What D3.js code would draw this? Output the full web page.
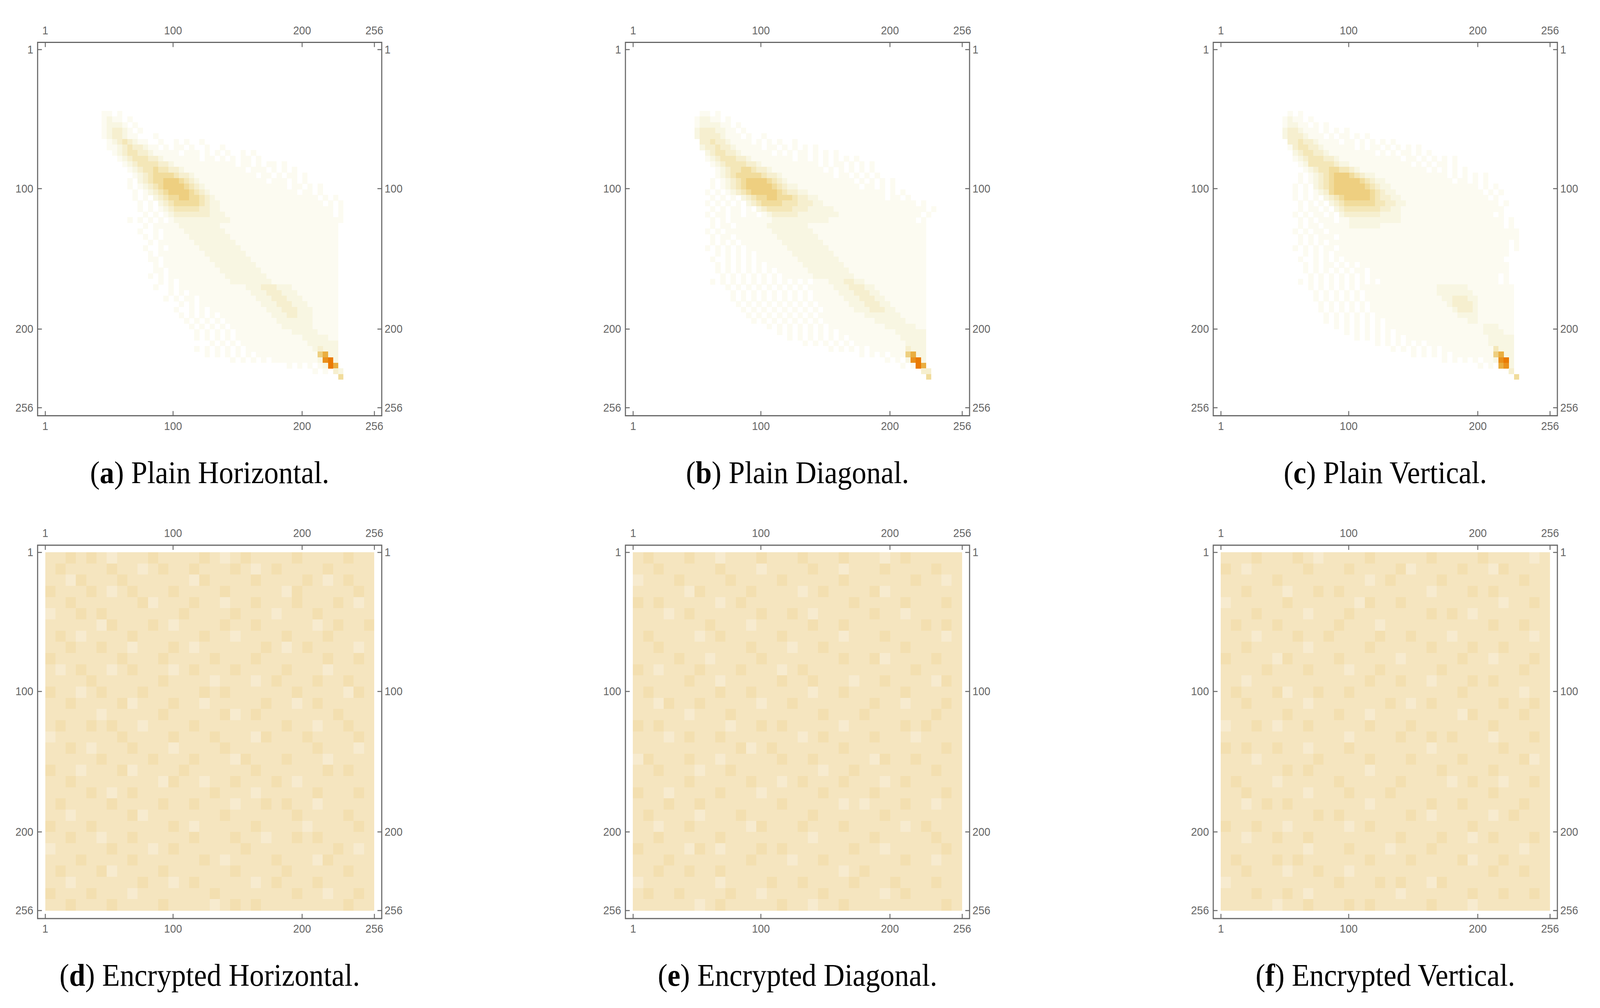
<!DOCTYPE html>
<html>
<head>
<meta charset="utf-8">
<script src="https://cdn.jsdelivr.net/npm/d3@7"></script>
<style>
  html, body { margin: 0; padding: 0; background: #fff; width: 100%; height: 100%; overflow: hidden; }
  svg { display: block; width: 100vw; height: 100vh; }
  .axis text { font-family: "Liberation Sans", Arial, sans-serif; font-size: 30px; fill: #666; }
  .axis line { stroke: #666; stroke-width: 2.5; }
  .caption { font-family: "Liberation Serif", serif; font-size: 81px; fill: #000; text-anchor: middle; }
</style>
</head>
<body>
<svg id="chart"></svg>
<script>
// tick labels shared by all panels
const tickValues = [1, 100, 200, 256];

// captions
const captionLetters = ["a", "b", "c", "d", "e", "f"];
const captionTexts = ["Plain Horizontal.", "Plain Diagonal.", "Plain Vertical.",
                      "Encrypted Horizontal.", "Encrypted Diagonal.", "Encrypted Vertical."];

// density levels 0-9
const densityLevels = [0, 1, 2, 3, 4, 5, 6, 7, 8, 9];
const plainColors = ["#ffffff", "#fcfbf1", "#f8f6e2", "#f6efcf", "#f4e7b8", "#f1dc9c", "#eecf80", "#eaae40", "#ea901c", "#ea7a04"];
const encryptedColors = ["#ffffff", "#fdf9ef", "#fbf3e0", "#f7ebcf", "#f5e5bf", "#f3dfb0", "#eeca7c", "#eaae40", "#ea901c", "#ea7a04"];

// plain panels: 64 x 64 blocks of 4 grey levels, first listed row is row 11, '.' means empty
const plainRowStart = 11;
const plainHorizontal = [
"...........11.1",
"...........1211.1",
"...........12221.1",
"...........123321.1",
"...........1233211...1",
"............12343211..1..1.1..1",
"............1123433211.1.11.1..1..1",
".............1234433211111.111.1.1.1..1.1",
"..............1234443321111111.11.1.1.11.1",
"...............1234444332111111111111.11.1.11.1",
"................12344544332111111111111.111.1.1.1",
".................123455554332111111111111.11.1.11.1",
"................1.2345566654321111111111111.111.1.1",
"................1.12345666654321111111111111111.11.1.1",
".................1.123456666543211111111111111111.11.1",
".................1.1.23455665543211111111111111111111.1.1",
"..................1.1.23455555432211111111111111111111.1.1",
"..................1.1.1234444433221111111111111111111111.1",
"...................1.1.123333333222111111111111111111111.1",
"................1.1.1.1.1222222222221111111111111111111111",
"...................1.1" + "1111" + "22222222" + "11111111111111111111111",
"..................1..1." + "1111" + "22222222" + "1111111111111111111111",
"...................1.1." + "11111" + "22222222" + "111111111111111111111",
"....................1." + "1111111" + "22222222" + "11111111111111111111",
"...................1..1." + "111111" + "22222222" + "1111111111111111111",
"....................1." + "111111111" + "22222222" + "111111111111111111",
"....................11." + "111111111" + "22222222" + "11111111111111111",
".....................1." + "1111111111" + "22222222" + "1111111111111111",
".....................11." + "1111111111" + "22222222" + "111111111111111",
"....................1.1." + "11111111111" + "22222222" + "11111111111111",
"......................1.1." + "1111111111" + "22222222" + "1111111111111",
".....................1..1.1111111111111222333222111111111",
"........................1.1.11111111111122233322211111111",
".......................1.1.11.1111111111122233322" + "21111111",
"..........................1.1.11111111111122233322" + "2111111",
".........................1..1.1.11111111111222333222" + "11111",
"..........................1.1.1.1.111111111122233222" + "11111",
"...........................1.1.1.1.1111111111222222211111",
"............................1.1.1.1.11111111112222221" + "1111",
".............................1.1.1.1.11111111111222221111",
".............................1.1.1.1.1111111111111222221" + "1",
"................................1.1.1.1111111111111222222",
".............................1.1.1.1.1.111111111111122222",
"...............................1.1.1.1.1.1111111111112222",
"....................................1.1.1.1.1111111112222",
"...............................................1.1.1.1222",
"....................................................1.1.12"
];
const plainDiagonal = [
".............11.1",
"............12211.1",
"............1222211.1",
"............23332211.1",
"............233332111.1..1",
".............3343321111.1.1.1..1",
".............233433211111.11.1.1.1.1",
"..............2344332111111.1.1.11.1.1.1",
"..............12344433211111111.11.1.1.1.1.1",
"...............123444433211111111111.1.11.1.1.1",
"................123445543321111111111.1.1.1.1.1",
"................12345555543321111111111.11.1.1.1",
"...............1.12345666654321111111111111.1.1.1.1",
"...............1.123456666654322111111111111.11.1.1",
"..............1.1.1234566666543322111111111111111.1.1",
"...............1.1.1.2345566555433221111111111111.11.1",
"..............1.1.1.1.234555544433322111111111111111111.1",
"...............1.1.11.1.234444433322222111111111111111111.1",
"..............1.11.11.11.1233333222222221111111111111111.1",
"...............1.1.111111112222222222211111111111111111.1",
"...............1.11.1" + "11111" + "22222222" + "11111111111111111111111",
"..............1.1.1" + "11111111" + "22222222" + "1111111111111111111111",
"...............1.11." + "11111111" + "22222222" + "111111111111111111111",
"...............1.1.1." + "11111111" + "22222222" + "11111111111111111111",
"..............1.1.1.1." + "11111111" + "22222222" + "1111111111111111111",
"................1.1.1.1." + "1111111" + "22222222" + "111111111111111111",
"...............1..1.1.1." + "11111111" + "22222222" + "11111111111111111",
"................1.1.1.1.1." + "1111111" + "22222222" + "1111111111111111",
"................1.1.1.1.1.1." + "111111" + "22222222" + "111111111111111",
".................1.1.1.1.1.1." + "111111" + "22222222" + "11111111111111",
"...............1.1.1.1.1.1.1.1.1.1.1112223322111111111111",
"..................1.1.1.1.1.1.1.1.11111222333221111111111",
"...................1.1.1.1.1.1.1.1.11111222333221111" + "11111",
"...................1.1.1.1.1.1.1.1.111111222333221" + "1111111",
"....................1.1.1.1.1.1.1.1.11111122233322" + "1111111",
".....................1.1.1.1.1.1.1.1.1111112223332" + "2111111",
"......................1.1.1.1.1.1.1.111111111222222211111",
".......................1.1.1.1.1.1.1.11111111112222221111",
"..........................1.1.1.1.1.1.11111111111222222" + "11",
"............................1.1.1.1.1.1.11111111111222222",
"..............................1.1.1.1.1.1.111111111122222",
".................................1.1.1.1.1.11111111112222",
"......................................1.1.1.1.11111112222",
"............................................1.1.1.1112222",
".................................................1.1.2222",
"....................................................1.1.2"
];
const plainVertical = [
".............1.1",
"............1211.1",
"............12211.1.1",
"............2332111.1.1.1",
"............23332111.1.11.1.1",
".............3343321111.11.1.1.1.1",
".............1344332111111.1.11.1.1.1.1",
"..............2344332111111111.1.1.11.1.1",
"..............123444332111111111111.11.1.1.1.1",
"...............1244444322111111111111.1.1.11.1",
"................123445544321111111111111.1.1.1.1",
"...............1.123456665432211111111111111.1.1.1.1",
"...............1.1234566666543221111111111111.11.1.1",
"..............1.1.23456666665432211111111111111111.1.1",
"..............1.1.123566666665432211111111111111111.1.1",
"..............1.1.1.23456666654332211111111111111111.1",
"...............1.1.1.234555555443322111111111111111111.1",
"...............1.11.1.234444444332211111111111111111111",
"..............1.1.11.1.233333332222111111111111111111.1",
"...............1.1.111.11222222222211111111111111111111.1",
"...............1.11.11111222222111111111111111111111111.1",
"..............1.1.11.1111111111111111111111111111111111111",
"...............1.1.111.11111111111111111111111111111111111",
"...............1.1.1.11111111111111111111111111111111111.1",
"..............1.1.1.11.111111111111111111111111111111111.1",
"................1.1.1.1111111111111111111111111111111111",
"...............1..1.1.1.1111111111111111111111111111111",
"................1.1.11.1.1.11111111111111111111111111111",
"................1.1.1.1.1.11.111111111111111111111111111",
".................1.1.1.1.1.1.1111111111111111111111111.1",
"...............1.1.1.1.1.1.1.1.11111111111111111111111.1",
".................1.1.1.1.1.111111111111111222222111111111",
"..................1.1.1.1.1.11111111111111222222211111111",
"..................1.1.1.1.1.1111111111111112233322" + "1111111",
"...................1.1.1.1.1.11111111111111123333211" + "11111",
"...................1.1.1.1.1.111111111111111123332" + "1111111",
"....................1.1.1.1.1.11111111111111112222" + "1111111",
"....................1.1.1.1.1.1.111111111111111122" + "1111111",
"......................1.1.1.1.1.11111111111111111112221" + "11",
"........................1.1.1.1.1.1111111111111111122221" + "1",
"..........................1.1.1.1.1.111111111111111122222",
"..............................1.1.1.1.1.11111111111122222",
".................................1.1.1.1.1.11111111112222",
".....................................1.1.1.1.111111112222",
"...........................................1.1.1.1.112222",
"..................................................1.1.222"
];

// bright diagonal peaks: [row, column, level]
const peaksHorizontal = [[53,53,3],[54,53,6],[54,54,7],[55,54,8],[55,55,9],[56,55,9],[56,56,7],[57,56,3],[58,57,5]];
const peaksDiagonal = [[53,53,3],[54,53,6],[54,54,7],[55,54,8],[55,55,9],[56,55,9],[56,56,7],[57,56,3],[57,57,3],[58,57,5]];
const peaksVertical = [[53,53,4],[54,53,6],[54,54,7],[55,54,8],[55,55,9],[56,54,7],[56,55,8],[57,56,3],[58,57,5]];

// encrypted panels: 32 x 32 block averages, nearly flat in the picture
const encryptedHorizontal = [
"44545434445444454345444454444544","45444454434544544454345444454444",
"44354445444444354444544445434544","54445434544454444544444354444454",
"44544444453444544344544454445434","34454544444445444454443444544444",
"44444354445434444544544444345445","45434444544444454434444544454444",
"44544544344454344444454345444434","54444445444544445444544444454454",
"43454434544434544454444544434444","44445444444544443444345444544544",
"54434544454444454544444454444354","44544445344454434444454434544444",
"44444344444544444534544444445444","45445454434444544444444544344544",
"34444445444454445444354445444454","44543444544434444544444444544434",
"44444544445444544435444544434444","54434445344445444444544444454544",
"44544444444354434454445434444444","44445434544444445444344444544454",
"45444454444544544434454544344444","44344444534444444544444454444544",
"54445444444454344444544443444454","44544344544444544454434454544444",
"34444454443454444445444444445434","44454444544444454344445444354444",
"45444534444544444454444544444544","44344444454434544444345444544444",
"54445444344444445444444454434454","44544454444544443454544444444544"
];
const encryptedDiagonal = [
"45444544344454445444544434544444","44544444544434444544344454444544",
"34445444454444544444544444454434","44444354444544443454444534444444",
"54544444345444444444454444544454","44434544444454454344444544344444",
"44444445444344444544544444445454","45444434544444544444344454444434",
"44544444444544434454444444544444","44445443444454444444544534444544",
"54344454445444345444444444454444","44444544344444544544434454444354",
"45444444544544444344544444544444","44354454444434454444444544344454",
"44444344454444444454445444444544","54544444434454544444344444545444",
"44434544544444443454444544434444","44444444445345444444544444444454",
"35444544344444544544444354454444","44544434454444444434454444444544",
"44444544444544345444544434544444","54434444544434444454444544444454",
"44454454444444544444343444544344","45444434445444444544444454444444",
"44344544444354445444544444345444","44544444544444444344444544444544",
"54444354344454544444454434444454","44454444444544434454444444544344",
"44544544544444444444345444444444","34444444344445445444454445444544",
"45445444454434444454444434544444","44444434544444544344544444444454"
];
const encryptedVertical = [
"44454445434444544444544445444434","54344444544454444534444544354444",
"44444544444444345444454444444544","44544434454544444444344454544444",
"34444454444443544544444444434454","44454444344454444444545434444444",
"45444544444544434444444444544544","44434445445444454454443444444434",
"44544444344444544444544454454444","54444354444544444344444544344454",
"44445444544434454444454444444544","44344444444444544544344454544444",
"45444534454454444444444544444344","44544444344444445434544444454454",
"44444454444544344444444354444544","34454344544444544454444444544444",
"44444444444434444544545444344454","54544544344454444444344444454444",
"44434444454444544454444544444534","44444454544444344444454444544444",
"45444344444544444544443454434454","44544444344454445444444444544444",
"44345454444444344444544544444544","44444444454544444454344444345444",
"54454434444434544444444454444444","44344544544444444544454434544454",
"44444444344454443444544444444344","45444545444444544454444534454444",
"44544434454434444444444444544544","34444444444544454544354444444444",
"44454454344444444344444454454454","44444344544454544444544434444444"
];

const plainPanels = [
  { rows: plainHorizontal, peaks: peaksHorizontal },
  { rows: plainDiagonal, peaks: peaksDiagonal },
  { rows: plainVertical, peaks: peaksVertical }
];
const encryptedPanels = [encryptedHorizontal, encryptedDiagonal, encryptedVertical];

const columnLefts = [105, 1746.5, 3388];
const rowTops = [108.5, 1396];
const frameWidth = 961, frameHeight = 956;
const captionBaselineGap = 1128.5;

// viewBox keeps the whole 4468 x 2581 drawing inside the window
const svg = d3.select("#chart")
  .attr("viewBox", "0 0 4468 2581")
  .attr("preserveAspectRatio", "none");

const xScale = d3.scaleLinear().domain([1, 256]).range([21, 940]);
const yScale = d3.scaleLinear().domain([1, 256]).range([18, 935]);

function drawCells(g, cells, size, colors) {
  const xBand = d3.scaleBand().domain(d3.range(size)).range(xScale.range());
  const yBand = d3.scaleBand().domain(d3.range(size)).range(yScale.range());
  const color = d3.scaleOrdinal().domain(densityLevels).range(colors);
  g.append("g")
    .attr("shape-rendering", "crispEdges")
    .selectAll("rect")
    .data(cells.filter(d => d.level > 0))
    .join("rect")
    .attr("x", d => xBand(d.col))
    .attr("y", d => yBand(d.row))
    .attr("width", xBand.bandwidth() + 0.5)
    .attr("height", yBand.bandwidth() + 0.5)
    .attr("fill", d => color(d.level));
}

function drawFrame(g) {
  g.append("rect")
    .attr("width", frameWidth)
    .attr("height", frameHeight)
    .attr("fill", "none")
    .attr("stroke", "#666")
    .attr("stroke-width", 3);

  const axes = [
    [d3.axisTop(xScale), 0, 0, 21],
    [d3.axisBottom(xScale), 0, frameHeight, 15],
    [d3.axisLeft(yScale), 0, 0, 12],
    [d3.axisRight(yScale), frameWidth, 0, 8]
  ];
  axes.forEach(([axis, tx, ty, pad]) => {
    g.append("g")
      .attr("class", "axis")
      .attr("transform", `translate(${tx},${ty})`)
      .call(axis.tickValues(tickValues).tickFormat(d3.format("d"))
        .tickSizeInner(-12).tickSizeOuter(0).tickPadding(pad))
      .call(a => a.select(".domain").remove());
  });
}

function drawCaption(g, letter, text) {
  const t = g.append("text")
    .attr("class", "caption")
    .attr("x", frameWidth / 2)
    .attr("y", captionBaselineGap);
  t.append("tspan").text("(");
  t.append("tspan").attr("font-weight", "bold").text(letter);
  t.append("tspan").text(") " + text);
}

plainPanels.forEach((panel, i) => {
  const g = svg.append("g").attr("transform", `translate(${columnLefts[i]},${rowTops[0]})`);
  const cells = [];
  panel.rows.forEach((line, r) => {
    line.split("").forEach((ch, c) => {
      if (ch !== ".") cells.push({ row: r + plainRowStart, col: c, level: +ch });
    });
  });
  panel.peaks.forEach(([row, col, level]) => cells.push({ row, col, level }));
  drawCells(g, cells, 64, plainColors);
  drawFrame(g);
  drawCaption(g, captionLetters[i], captionTexts[i]);
});

encryptedPanels.forEach((rows, i) => {
  const g = svg.append("g").attr("transform", `translate(${columnLefts[i]},${rowTops[1]})`);
  const cells = [];
  rows.forEach((line, r) => {
    line.split("").forEach((ch, c) => cells.push({ row: r, col: c, level: +ch }));
  });
  drawCells(g, cells, 32, encryptedColors);
  drawFrame(g);
  drawCaption(g, captionLetters[i + 3], captionTexts[i + 3]);
});
</script>
</body>
</html>
